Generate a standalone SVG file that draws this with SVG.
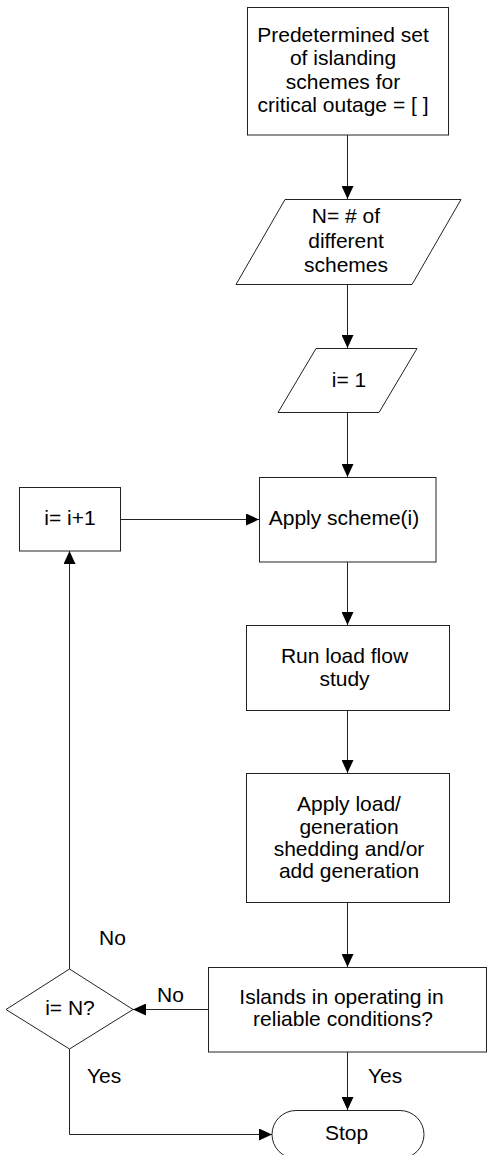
<svg xmlns="http://www.w3.org/2000/svg" width="488" height="1155" viewBox="0 0 488 1155">
<defs>
<marker id="ah" markerUnits="userSpaceOnUse" markerWidth="14" markerHeight="12" refX="13" refY="6" orient="auto">
<path d="M0,0 L13,6 L0,12 z" fill="#000"/>
</marker>
<style>
.s{fill:#fff;stroke:#222;stroke-width:1}
.t{font-family:"Liberation Sans",Arial,sans-serif;font-size:21px;fill:#000;text-anchor:middle}
.l{font-family:"Liberation Sans",Arial,sans-serif;font-size:21px;fill:#000}
.c{fill:none;stroke:#222;stroke-width:1}
</style>
</defs>
<rect width="488" height="1155" fill="#fff"/>
<g id="connectors">
<line class="c" x1="347.5" y1="135" x2="347.5" y2="199" marker-end="url(#ah)"/>
<line class="c" x1="347.5" y1="284" x2="347.5" y2="348" marker-end="url(#ah)"/>
<line class="c" x1="347.5" y1="412" x2="347.5" y2="477" marker-end="url(#ah)"/>
<line class="c" x1="120" y1="519.5" x2="259" y2="519.5" marker-end="url(#ah)"/>
<line class="c" x1="347.5" y1="562" x2="347.5" y2="625" marker-end="url(#ah)"/>
<line class="c" x1="347.5" y1="710" x2="347.5" y2="773" marker-end="url(#ah)"/>
<line class="c" x1="347.5" y1="902" x2="347.5" y2="967" marker-end="url(#ah)"/>
<line class="c" x1="208" y1="1009.5" x2="133" y2="1009.5" marker-end="url(#ah)"/>
<line class="c" x1="69.5" y1="969" x2="69.5" y2="551" marker-end="url(#ah)"/>
<polyline class="c" points="69.5,1049 69.5,1134.5 272,1134.5" marker-end="url(#ah)"/>
<line class="c" x1="347.5" y1="1052" x2="347.5" y2="1110" marker-end="url(#ah)"/>
<text class="l" x="99" y="944.5">No</text>
<text class="l" x="157" y="1001.5">No</text>
<text class="l" x="87" y="1082.5">Yes</text>
<text class="l" x="368" y="1082.5">Yes</text>
</g>
<g id="start">
<rect class="s" x="247.5" y="7.5" width="201" height="127.5"/>
<text class="t" x="343" y="42">Predetermined set</text>
<text class="t" x="343" y="65">of islanding</text>
<text class="t" x="343" y="88.5">schemes for</text>
<text class="t" x="343" y="112">critical outage = [ ]</text>
</g>
<g id="n-schemes">
<polygon class="s" points="285,199.5 461,199.5 412,284.5 236,284.5"/>
<text class="t" x="346" y="223">N= # of</text>
<text class="t" x="346" y="248">different</text>
<text class="t" x="346" y="272">schemes</text>
</g>
<g id="init">
<polygon class="s" points="316,348.5 417,348.5 379,412.5 278,412.5"/>
<text class="t" x="349" y="387">i= 1</text>
</g>
<g id="apply">
<rect class="s" x="259.5" y="477.5" width="176.5" height="84.5"/>
<text class="t" x="344" y="525">Apply scheme(i)</text>
</g>
<g id="increment">
<rect class="s" x="19.5" y="487.5" width="101" height="63.5"/>
<text class="t" x="70" y="524.5">i= i+1</text>
</g>
<g id="loadflow">
<rect class="s" x="246.5" y="625.5" width="203" height="85"/>
<text class="t" x="344.5" y="663">Run load flow</text>
<text class="t" x="344.5" y="686">study</text>
</g>
<g id="shedding">
<rect class="s" x="246.5" y="773.5" width="203" height="129"/>
<text class="t" x="349" y="811">Apply load/</text>
<text class="t" x="349" y="833.5">generation</text>
<text class="t" x="349" y="856">shedding and/or</text>
<text class="t" x="349" y="878">add generation</text>
</g>
<g id="islands">
<rect class="s" x="208.5" y="967.5" width="278" height="84.5"/>
<text class="t" x="341.5" y="1004">Islands in operating in</text>
<text class="t" x="343" y="1026">reliable conditions?</text>
</g>
<g id="decision">
<polygon class="s" points="6,1009.5 69.5,969 133,1009.5 69.5,1049"/>
<text class="t" x="70" y="1015">i= N?</text>
</g>
<g id="stop">
<rect class="s" x="272" y="1110.5" width="152" height="48" rx="24" ry="24"/>
<text class="t" x="346.5" y="1140">Stop</text>
</g>
</svg>
